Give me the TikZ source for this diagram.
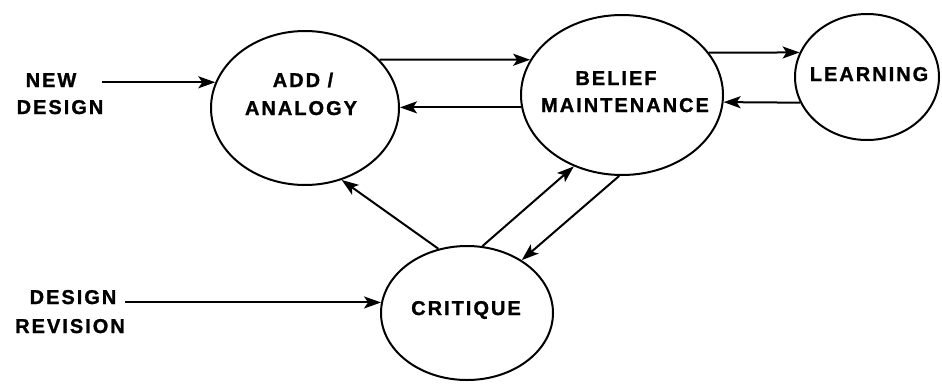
\documentclass[tikz,border=0pt]{standalone}
\usepackage{fontspec}
\newfontfamily\plotfont{Liberation Sans}[LetterSpace=10, BoldFeatures={FakeBold=1.2}]
\usetikzlibrary{arrows.meta,shapes.geometric}

\begin{document}
\begin{tikzpicture}[x=1pt,y=-1pt,
  bubble/.style={draw, ellipse, line width=2pt, inner sep=0pt},
  lbl/.style={anchor=base, inner sep=0pt,
    font=\plotfont\bfseries\fontsize{20}{24}\selectfont},
  flow/.style={line width=2pt,
    -{Stealth[length=17pt,width=12pt,inset=4pt]}}
]
\useasboundingbox (0,0) rectangle (942,383);

% processes
\node[bubble, minimum width=188pt, minimum height=154pt] (add)    at (305,108) {};
\node[bubble, minimum width=202pt, minimum height=160pt] (belief) at (622,95)  {};
\node[bubble, minimum width=144pt, minimum height=126pt] (learn)  at (867,77)  {};
\node[bubble, minimum width=172pt, minimum height=134pt] (crit)   at (467,313) {};

% process names
\node[lbl] (addA)  at (303,87)  {ADD /};
\node[lbl] (addB)  at (301,115) {ANALOGY};
\node[lbl] (belA)  at (616,85)  {BELIEF};
\node[lbl] (belB)  at (625,112) {MAINTENANCE};
\node[lbl] (lrn)   at (869,81)  {LEARNING};
\node[lbl] (crt)   at (466,315) {CRITIQUE};

% external inputs
\node[lbl] (newA)  at (51,87)   {NEW};
\node[lbl] (newB)  at (60,114)  {DESIGN};
\node[lbl] (revA)  at (73,304)  {DESIGN};
\node[lbl] (revB)  at (70,333)  {REVISION};
\coordinate (nd) at (102,82);
\coordinate (dr) at (125,303);

% flows
\draw[flow] (add.164 -| nd) -- (add.164);
\draw[flow] (crit.173 -| dr) -- (crit.173);
\draw[flow] (add.33) -- (belief.159);
\draw[flow] (belief.-173) -- (belief.-173 -| add.east);
\draw[flow] (belief.26) -- (learn.160);
\draw[flow] (learn.-159) -- (belief.-4);
\draw[flow] (crit.114) -- (add.-63);
\draw[flow] (crit.77) -- (belief.-124);
\draw[flow] (belief.-92) -- (crit.44);
\end{tikzpicture}
\end{document}
